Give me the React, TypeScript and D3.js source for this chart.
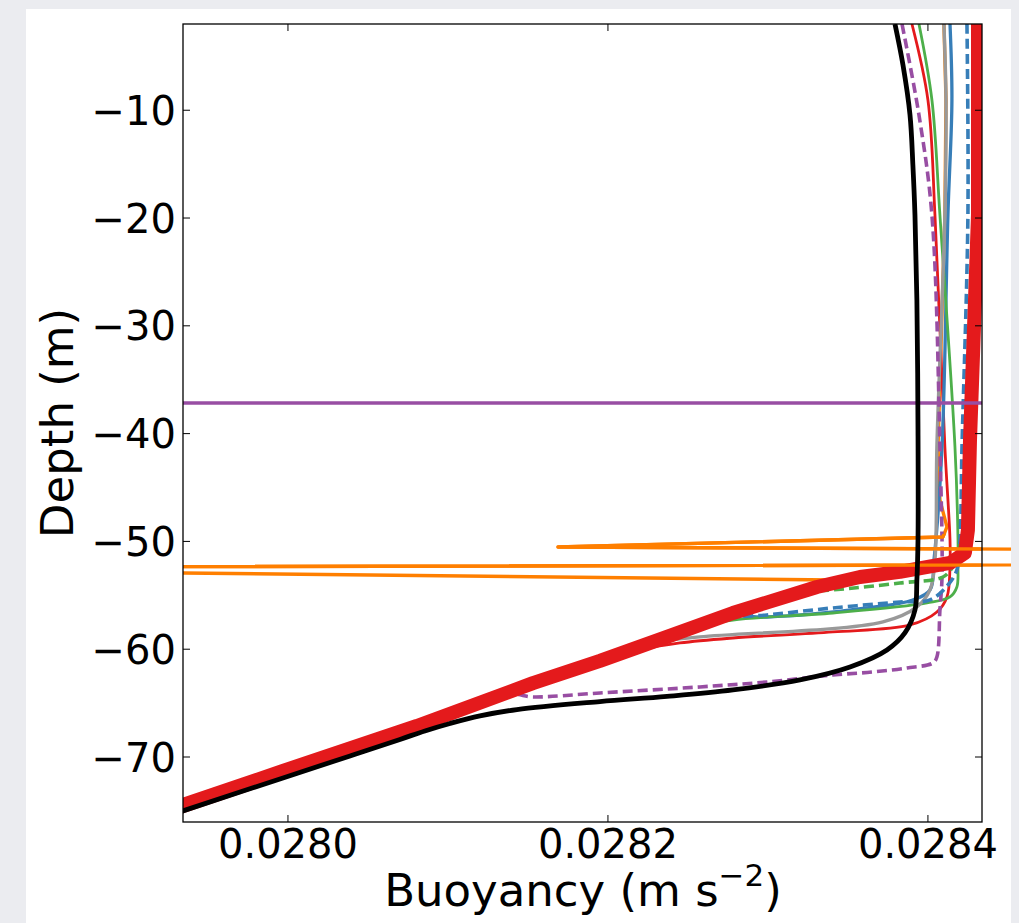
import React from "react";
import * as d3 from "d3";

type P = [number, number];

// x: buoyancy (m s^-2), y: depth (m)
const X_TICKS = [0.028, 0.0282, 0.0284];
const Y_TICKS = [-70, -60, -50, -40, -30, -20, -10];
const X_DOMAIN: [number, number] = [0.0279344, 0.0284338];
const Y_DOMAIN: [number, number] = [-2, -76.03];

// common linear gradient below the mixed layer (under the thick red line)
const gradientTail: P[] = [
  [0.0282781, -56.64],
  [0.0282369, -58.86],
  [0.028195, -61.09],
  [0.0281531, -63.15],
  [0.0280806, -67.12],
  [0.0279969, -71.29],
  [0.0279344, -74.45],
  [0.0279138, -75.48],
];

const redThin: P[] = [
  [0.02839, -2.0], [0.0284, -9.05], [0.0284044, -19.72], [0.0284106, -41.24],
  [0.0284138, -49.87], [0.0284138, -52.37], [0.0284119, -55.15], [0.0284056, -56.55],
  [0.0283888, -57.75], [0.0283406, -58.4], [0.0282781, -58.96], [0.028245, -59.42],
  [0.02822, -60.07], [0.028195, -61.18], [0.0281531, -63.4], [0.0280806, -67.5],
  [0.0279969, -71.94], [0.0279344, -75.1], [0.0279138, -76.13],
];

const blueSolid: P[] = [
  [0.0284138, -2.0], [0.028415, -9.05], [0.0284125, -19.72], [0.0284088, -41.24],
  [0.0284038, -51.72], [0.0284013, -54.5], [0.0283906, -55.43], [0.0283619, -56.17],
  [0.0282994, -57.01], [0.0282731, -56.92],
];

const greenSolid: P[] = [
  [0.0283944, -2.0], [0.0284025, -9.05], [0.0284075, -19.72], [0.0284169, -41.24],
  [0.0284188, -49.87], [0.0284188, -52.37], [0.0284181, -54.23], [0.0284138, -55.15],
  [0.0283994, -55.71], [0.0283406, -56.64], [0.0282781, -57.29], [0.0282513, -58.03],
];

const grayLine: P[] = [
  [0.02841, -2.0], [0.0284113, -9.05], [0.0284106, -19.72], [0.0284056, -41.24],
  [0.0284044, -51.72], [0.0284013, -54.5], [0.0283931, -56.08], [0.0283719, -57.47],
  [0.0282575, -58.86], [0.0282325, -59.33],
];

const purpleDashed: P[] = [
  [0.0283838, -2.0], [0.0283944, -10.44], [0.0284025, -19.72], [0.0284075, -41.24],
  [0.0284088, -53.3], [0.0284075, -56.36], [0.0284056, -60.72], [0.0284031, -61.28],
  [0.0283869, -61.74], [0.0283656, -62.11], [0.0283406, -62.39], [0.0282994, -63.04],
  [0.0282575, -63.5], [0.028195, -64.06], [0.0281531, -64.43], [0.0281388, -64.2],
];

const blueDashed: P[] = [
  [0.0284244, -2.0], [0.028425, -19.72], [0.0284213, -41.24], [0.02842, -49.87],
  [0.0284181, -52.65], [0.0284125, -54.04], [0.0284013, -55.43], [0.0283825, -55.62],
  [0.0283406, -56.17], [0.0282994, -56.82], [0.0282638, -57.29],
];

const greenDashed: P[] = [
  [0.0284294, -2.0], [0.02843, -19.72], [0.0284256, -41.24], [0.0284238, -48.94],
  [0.02842, -51.26], [0.0284156, -52.37], [0.0284094, -53.3], [0.0283825, -53.86],
  [0.0283406, -54.5], [0.02832, -54.69],
];

const orangeLine: P[] = [
  [0.02841, -2.0], [0.0284113, -9.05], [0.0284106, -19.72], [0.0284063, -41.24],
  [0.0284075, -46.16], [0.0284119, -48.66], [0.0284094, -49.59], [0.0281688, -50.52],
  [0.029891, -51.72], [0.02763, -52.44], [0.0283406, -53.58], [0.0283306, -54.23],
];

const redThick: P[] = [
  [0.0284313, -2.0], [0.0284313, -19.72], [0.0284263, -40.59], [0.028425, -48.94],
  [0.0284231, -51.07], [0.0284138, -52.0], [0.0283825, -52.83], [0.0283575, -53.3],
  [0.0283306, -54.23], [0.0282781, -56.64], [0.0282369, -58.86], [0.028195, -61.09],
  [0.0281531, -63.15], [0.0280806, -67.12], [0.0279969, -71.29], [0.0279344, -74.45],
  [0.0279138, -75.48],
];

const blackLine: P[] = [
  [0.0283794, -2.0], [0.0283844, -5.8], [0.0283888, -10.44], [0.0283906, -15.08],
  [0.0283919, -19.72], [0.0283931, -27.6], [0.0283938, -39.66], [0.0283938, -49.87],
  [0.0283931, -53.58], [0.0283919, -56.36], [0.0283856, -58.49], [0.0283744, -60.07],
  [0.0283513, -61.65], [0.02832, -62.85], [0.0282781, -63.78], [0.0282369, -64.38],
  [0.028195, -64.86], [0.0281431, -65.6], [0.02812, -66.19], [0.0281013, -66.89],
  [0.0280856, -67.58], [0.02807, -68.37], [0.0280388, -69.9], [0.0279969, -71.94],
  [0.0279344, -75.0], [0.0279138, -76.03],
];

const mixedLayerDepth = -37.16;
const mixedLayerX = [0.0279, 0.0285];

function withTail(pts: P[]): P[] {
  const last = pts[pts.length - 1];
  return pts.concat(gradientTail.filter((p) => p[0] < last[0] - 1e-8));
}

export default function App() {
  const W = 1019;
  const H = 923;
  const L = 183, T = 24, R = 982, B = 822;
  const x = d3.scaleLinear().domain(X_DOMAIN).range([L, R]);
  const y = d3.scaleLinear().domain(Y_DOMAIN).range([T, B]);
  const line = d3.line<P>().x((d) => x(d[0])).y((d) => y(d[1]));
  const smooth = d3
    .line<P>()
    .x((d) => x(d[0]))
    .y((d) => y(d[1]))
    .curve(d3.curveCatmullRom.alpha(0.5));

  const font = "DejaVu Sans, sans-serif";
  const series = [
    { d: smooth(withTail(redThin)), c: "#e41a1c", w: 2.8, dash: undefined },
    { d: smooth(withTail(blueSolid)), c: "#377eb8", w: 3.3, dash: undefined },
    { d: smooth(withTail(greenSolid)), c: "#4daf4a", w: 2.8, dash: undefined },
    { d: smooth(withTail(grayLine)), c: "#999999", w: 3.4, dash: undefined },
    { d: smooth(withTail(purpleDashed)), c: "#984ea3", w: 3.6, dash: "10 5" },
    { d: smooth(withTail(blueDashed)), c: "#377eb8", w: 3.6, dash: "10 5" },
    { d: smooth(withTail(greenDashed)), c: "#4daf4a", w: 3.6, dash: "10 5" },
  ];
  const orangePath = line(withTail(orangeLine)) || "";

  return (
    <svg
      width={W}
      height={H}
      style={{ position: "absolute", left: 0, top: 0, display: "block" }}
      xmlns="http://www.w3.org/2000/svg"
    >
      <rect x={0} y={0} width={W} height={H} fill="#ebecf0" />
      <rect x={26} y={9} width={985} height={H - 9} fill="#ffffff" />
      <defs>
        <clipPath id="plotclip">
          <rect x={L} y={T} width={R - L} height={B - T} />
        </clipPath>
        <clipPath id="orangeclip">
          <rect x={L} y={y(-49.3)} width={1011 - L} height={y(-52.75) - y(-49.3)} />
        </clipPath>
      </defs>
      <g clipPath="url(#plotclip)" fill="none" strokeLinejoin="round">
        <path d={orangePath} stroke="#ff7f00" strokeWidth={3.4} />
        {series.map((s, i) => (
          <path key={i} d={s.d || ""} stroke={s.c} strokeWidth={s.w} strokeDasharray={s.dash} />
        ))}
        <path d={line(redThick) || ""} stroke="#e41a1c" strokeWidth={14} />
      </g>
      <g clipPath="url(#orangeclip)" fill="none" strokeLinejoin="round">
        <path d={orangePath} stroke="#ff7f00" strokeWidth={3.4} />
      </g>
      <g clipPath="url(#plotclip)" fill="none" strokeLinejoin="round">
        <line
          x1={x(mixedLayerX[0])}
          x2={x(mixedLayerX[1])}
          y1={y(mixedLayerDepth)}
          y2={y(mixedLayerDepth)}
          stroke="#984ea3"
          strokeWidth={3.5}
        />
        <path d={smooth(blackLine) || ""} stroke="#000000" strokeWidth={4.8} />
      </g>
      {/* frame */}
      <rect x={L} y={T} width={R - L} height={B - T} fill="none" stroke="#000" strokeWidth={1.3} />
      {/* x ticks */}
      {X_TICKS.map((t) => (
        <g key={"x" + t}>
          <line x1={x(t)} x2={x(t)} y1={B} y2={B - 7} stroke="#000" strokeWidth={1} />
          <line x1={x(t)} x2={x(t)} y1={T} y2={T + 7} stroke="#000" strokeWidth={1} />
          <text x={x(t)} y={858} textAnchor="middle" fontFamily={font} fontSize={40} fill="#000">
            {d3.format(".4f")(t)}
          </text>
        </g>
      ))}
      {/* y ticks */}
      {Y_TICKS.map((t) => (
        <g key={"y" + t}>
          <line x1={L} x2={L + 7} y1={y(t)} y2={y(t)} stroke="#000" strokeWidth={1} />
          <line x1={R} x2={R - 7} y1={y(t)} y2={y(t)} stroke="#000" strokeWidth={1} />
          <text x={176} y={y(t) + 14.5} textAnchor="end" fontFamily={font} fontSize={40} fill="#000">
            {"\u2212" + Math.abs(t)}
          </text>
        </g>
      ))}
      <text x={583} y={906} textAnchor="middle" fontFamily={font} fontSize={45} fill="#000">
        <tspan>Buoyancy (m s</tspan>
        <tspan fontSize={31} dy={-20}>{"\u22122"}</tspan>
        <tspan dy={20}>)</tspan>
      </text>
      <text
        transform={`translate(73, ${(T + B) / 2}) rotate(-90)`}
        textAnchor="middle"
        fontFamily={font}
        fontSize={45}
        fill="#000"
      >
        Depth (m)
      </text>
    </svg>
  );
}
